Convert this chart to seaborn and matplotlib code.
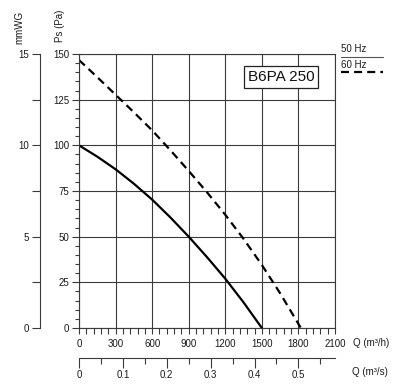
import matplotlib
matplotlib.use("Agg")
import matplotlib.pyplot as plt
from matplotlib import font_manager
from matplotlib.ticker import MultipleLocator, FuncFormatter
import seaborn as sns
import pandas as pd

# Data
q_50 = [0, 150, 300, 450, 600, 750, 900, 1050, 1200, 1350, 1500]
ps_50 = [100, 93.8, 86.9, 79.0, 70.3, 60.5, 50, 38.8, 27, 14, 0]
q_60 = [0, 150, 300, 450, 600, 750, 900, 1050, 1200, 1350, 1500, 1650, 1820]
ps_60 = [146.7, 137.3, 127.7, 118.1, 108.2, 97.3, 86, 74.3, 62, 48.8, 34.5, 19, 0]
mmwg_ticks = [0, 5, 10, 15]
model = "B6PA 250"
legend_labels = ["50 Hz", "60 Hz"]

# prefer the regular-width Liberation Sans over the Narrow variant
font_manager.fontManager.ttflist = [f for f in font_manager.fontManager.ttflist
                                    if "Narrow" not in f.fname]
try:
    font_manager.fontManager._findfont_cached.cache_clear()
except Exception:
    pass

sns.set_style("white")
plt.rcParams['font.family'] = ['Liberation Sans', 'DejaVu Sans']
plt.rcParams['font.size'] = 7

fig = plt.figure(figsize=(4.0, 3.88), dpi=100)
W, H = 400, 388
x0, x1, y0, y1 = 79, 335, 54, 328
ax = fig.add_axes([x0 / W, 1 - y1 / H, (x1 - x0) / W, (y1 - y0) / H])

df50 = pd.DataFrame({"Q": q_50, "Ps": ps_50})
df60 = pd.DataFrame({"Q": q_60, "Ps": ps_60})
sns.lineplot(data=df50, x="Q", y="Ps", ax=ax, color="black", lw=1.6, sort=False)
sns.lineplot(data=df60, x="Q", y="Ps", ax=ax, color="black", lw=1.6, sort=False,
             linestyle=(0, (3.6, 2.3)))

ax.set_xlim(0, 2100)
ax.set_ylim(0, 150)
ax.set_xlabel("")
ax.set_ylabel("")
ax.xaxis.set_major_locator(MultipleLocator(300))
ax.xaxis.set_minor_locator(MultipleLocator(60))
ax.yaxis.set_major_locator(MultipleLocator(25))
ax.yaxis.set_minor_locator(MultipleLocator(5))
ax.grid(True, which="major", color="#3a3a3a", lw=0.8)
for s in ax.spines.values():
    s.set_color("#3a3a3a")
    s.set_linewidth(0.8)
ax.tick_params(axis="both", which="both", direction="out", color="#3a3a3a", width=0.8,
               labelsize=7, labelcolor="#1a1a1a", left=True, bottom=True)
ax.tick_params(axis="x", which="both", length=4, pad=4)
ax.tick_params(axis="y", which="major", length=5, pad=2)
ax.tick_params(axis="y", which="minor", length=3)

# mmWG axis drawn as a separate thin axes
axm = fig.add_axes([40 / W, 1 - y1 / H, 0.001, (y1 - y0) / H])
axm.set_ylim(0, 15)
axm.set_xlim(0, 1)
axm.set_yticks(mmwg_ticks)
axm.yaxis.set_minor_locator(MultipleLocator(2.5))
axm.set_xticks([])
for k in ("top", "right", "bottom"):
    axm.spines[k].set_visible(False)
axm.spines["left"].set_color("#3a3a3a")
axm.spines["left"].set_linewidth(0.8)
axm.patch.set_visible(False)
axm.tick_params(axis="y", which="both", direction="out", length=6, width=0.8, left=True,
                color="#3a3a3a", labelsize=7, pad=2, labelcolor="#1a1a1a")

# Secondary x axis in m3/s
sx = ax.secondary_xaxis((y1 - 358) / (y1 - y0), functions=(lambda q: q / 3600.0, lambda s: s * 3600.0))
sx.xaxis.set_major_locator(MultipleLocator(0.1))
sx.xaxis.set_minor_locator(MultipleLocator(0.05))
sx.xaxis.set_major_formatter(FuncFormatter(lambda v, p: "%g" % round(v, 2)))
sx.tick_params(axis="x", which="major", direction="out", length=7, width=0.8, bottom=True,
               color="#3a3a3a", labelsize=7, pad=2, labelcolor="#1a1a1a")
sx.tick_params(axis="x", which="minor", direction="out", length=4, width=0.8, bottom=True,
               color="#3a3a3a")
sx.spines["bottom"].set_color("#3a3a3a")
sx.spines["bottom"].set_linewidth(0.8)

# Axis titles
fig.text(60 / W, 1 - 26 / H, "Ps (Pa)", rotation=90, ha="center", va="center", fontsize=7, color="#1a1a1a")
fig.text(19 / W, 1 - 27 / H, "mmWG", rotation=90, ha="center", va="center", fontsize=7, color="#1a1a1a")
fig.text(353 / W, 1 - 343 / H, "Q (m³/h)", ha="left", va="center", fontsize=7, color="#1a1a1a")
fig.text(352 / W, 1 - 372 / H, "Q (m³/s)", ha="left", va="center", fontsize=7, color="#1a1a1a")

# Model box
ax.text(1660, 137.4, model, ha="center", va="center", fontsize=11, color="#111111",
        bbox=dict(boxstyle="square,pad=0.25", fc="white", ec="#222222", lw=0.9), zorder=5)

# Legend
fig.text(341 / W, 1 - 49 / H, legend_labels[0], ha="left", va="center", fontsize=7, color="#1a1a1a")
fig.add_artist(plt.Line2D([341 / W, 383 / W], [1 - 57 / H, 1 - 57 / H], color="#555555", lw=0.8))
fig.text(341 / W, 1 - 65 / H, legend_labels[1], ha="left", va="center", fontsize=7, color="#1a1a1a")
fig.add_artist(plt.Line2D([341 / W, 383 / W], [1 - 72 / H, 1 - 72 / H], color="black", lw=1.6,
                          linestyle=(0, (3.6, 2.3))))

fig.savefig("out.png", dpi=100)
